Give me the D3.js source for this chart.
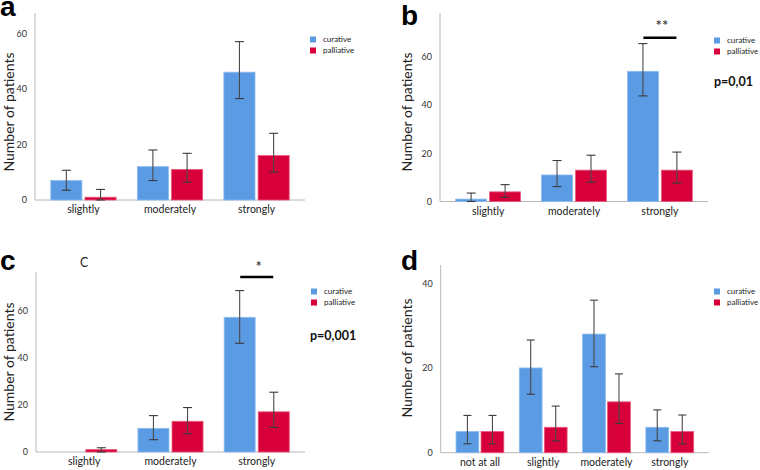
<!DOCTYPE html>
<html><head><meta charset="utf-8">
<script src="https://cdn.jsdelivr.net/npm/d3@7/dist/d3.min.js"></script>
<style>body{margin:0;background:#fff}svg{display:block}</style>
</head><body>
<svg id="chart" width="760" height="470"></svg>
<script>
// ---- data ----
const series = ["curative", "palliative"];
const catsABC = ["slightly", "moderately", "strongly"];
const catsD = ["not at all", "slightly", "moderately", "strongly"];

const aCurative = [7, 12, 46];
const aCurativeErr = [[3.5, 10.7], [7, 18], [36.5, 57]];
const aPalliative = [1, 11, 16];
const aPalliativeErr = [[0, 3.8], [6.4, 16.8], [10, 24]];

const bCurative = [1, 11, 54];
const bCurativeErr = [[0, 3.5], [6.2, 17], [43.8, 65.5]];
const bPalliative = [4, 13, 13];
const bPalliativeErr = [[1.7, 7], [8, 19.2], [7.6, 20.5]];

const cCurative = [0, 10, 57];
const cCurativeErr = [null, [5.2, 15.4], [46, 68.3]];
const cPalliative = [1, 13, 17];
const cPalliativeErr = [[0, 1.8], [7.7, 18.8], [10.4, 25.3]];

const dCurative = [5, 20, 28, 6];
const dCurativeErr = [[2.1, 8.8], [13.8, 26.6], [20.3, 36], [2.8, 10.1]];
const dPalliative = [5, 6, 12, 5];
const dPalliativeErr = [[2.1, 8.8], [2.8, 11], [6.9, 18.6], [2.1, 8.9]];

const ticksABC = [0, 20, 40, 60];
const ticksD = [0, 20, 40];
const yLabel = "Number of patients";

const colors = {curative: "#5b9be4", palliative: "#d7003a"};
const strokes = {curative: "#8dbbef", palliative: "#e9587c"};

const svg = d3.select("#chart");
const FONT = "Lato, 'Open Sans', sans-serif";

function panel(cfg) {
  const g = svg.append("g");
  const x0 = d3.scaleBand().domain(cfg.cats).range([cfg.left, cfg.right])
    .paddingInner(0).paddingOuter(cfg.outer);
  const gw = x0.step() * 0.755;
  const x1 = d3.scaleBand().domain(series).range([-gw / 2, gw / 2]).paddingInner(0.09);
  const y = d3.scaleLinear().domain([0, cfg.ymax]).range([cfg.base, cfg.top]);

  // axis lines
  g.append("line").attr("x1", cfg.left).attr("x2", cfg.left)
    .attr("y1", y(cfg.ymax)).attr("y2", y(0)).attr("stroke", "#b8b8b8").attr("stroke-width", 1);
  g.append("line").attr("x1", cfg.left).attr("x2", cfg.right)
    .attr("y1", y(0)).attr("y2", y(0)).attr("stroke", "#b8b8b8").attr("stroke-width", 1);

  // y axis ticks
  const ya = g.append("g").attr("transform", `translate(${cfg.left},0)`)
    .call(d3.axisLeft(y).tickValues(cfg.ticks).tickSize(0).tickPadding(8));
  ya.select(".domain").remove();
  ya.selectAll("text").attr("font-family", FONT).attr("font-size", 9).attr("fill", "#333");

  // x axis labels
  const xa = g.append("g").attr("transform", `translate(0,${y(0)})`)
    .call(d3.axisBottom(x0).tickSize(0).tickPadding(6));
  xa.select(".domain").remove();
  xa.selectAll("text").attr("font-family", FONT).attr("font-size", 10.5).attr("fill", "#222");

  // bars
  const rows = [];
  cfg.cats.forEach((c, i) => {
    rows.push({cat: c, s: "curative", v: cfg.cur[i], e: cfg.curErr[i]});
    rows.push({cat: c, s: "palliative", v: cfg.pal[i], e: cfg.palErr[i]});
  });
  const bx = d => x0(d.cat) + x0.bandwidth() / 2 + x1(d.s);
  g.selectAll("rect.bar").data(rows.filter(d => d.v > 0)).join("rect")
    .attr("x", bx).attr("width", x1.bandwidth())
    .attr("y", d => y(d.v)).attr("height", d => y(0) - y(d.v))
    .attr("fill", d => colors[d.s]).attr("stroke", d => strokes[d.s]).attr("stroke-width", 0.8);

  // error bars
  const cap = cfg.cap;
  const eb = g.selectAll("g.err").data(rows.filter(d => d.e)).join("g")
    .attr("transform", d => `translate(${bx(d) + x1.bandwidth() / 2},0)`);
  eb.append("line").attr("y1", d => y(d.e[0])).attr("y2", d => y(d.e[1]))
    .attr("stroke", "#4a4a4a").attr("stroke-width", 1.1);
  eb.append("line").attr("x1", -cap / 2).attr("x2", cap / 2)
    .attr("y1", d => y(d.e[0])).attr("y2", d => y(d.e[0])).attr("stroke", "#3a3a3a").attr("stroke-width", 1.1);
  eb.append("line").attr("x1", -cap / 2).attr("x2", cap / 2)
    .attr("y1", d => y(d.e[1])).attr("y2", d => y(d.e[1])).attr("stroke", "#3a3a3a").attr("stroke-width", 1.1);

  // legend
  series.forEach((s, i) => {
    g.append("rect").attr("x", cfg.legX).attr("y", cfg.legY + i * 11)
      .attr("width", 6).attr("height", 6).attr("fill", colors[s]);
    g.append("text").attr("x", cfg.legX + 13).attr("y", cfg.legY + i * 11 + 5.5)
      .attr("font-family", FONT).attr("font-size", 8).attr("fill", "#222").text(s);
  });

  // y label
  g.append("text").attr("transform", `translate(${cfg.ylX},${cfg.ylY}) rotate(-90)`)
    .attr("text-anchor", "middle").attr("font-family", FONT).attr("font-size", 14)
    .attr("fill", "#222").text(yLabel);

  // panel letter
  g.append("text").attr("x", cfg.letX).attr("y", cfg.letY)
    .attr("font-family", "'Liberation Sans', Arial, sans-serif").attr("font-weight", "bold")
    .attr("font-size", 28).attr("fill", "#000").text(cfg.letter);

  if (cfg.sig) {
    const cx = x0(cfg.sig.cat) + x0.bandwidth() / 2;
    g.append("line").attr("x1", cx - cfg.sig.half).attr("x2", cx + cfg.sig.half)
      .attr("y1", cfg.sig.y).attr("y2", cfg.sig.y).attr("stroke", "#000").attr("stroke-width", 2.5);
    g.append("text").attr("x", cx + 2).attr("y", cfg.sig.ty).attr("text-anchor", "middle")
      .attr("font-family", FONT).attr("font-size", 15).attr("fill", "#111").text(cfg.sig.stars);
  }
  if (cfg.p) {
    g.append("text").attr("x", cfg.p.x).attr("y", cfg.p.y)
      .attr("font-family", FONT).attr("font-weight", "bold").attr("font-size", 12.5)
      .attr("fill", "#111").text(cfg.p.text);
  }
  return g;
}

panel({letter: "a", cats: catsABC, cur: aCurative, curErr: aCurativeErr, pal: aPalliative, palErr: aPalliativeErr,
  left: 35, right: 305, outer: 0.06, base: 200, top: 13, ymax: 67.3, ticks: ticksABC, cap: 9,
  legX: 310, legY: 36.5, ylX: 14, ylY: 112, letX: 0, letY: 16});

panel({letter: "b", cats: catsABC, cur: bCurative, curErr: bCurativeErr, pal: bPalliative, palErr: bPalliativeErr,
  left: 440, right: 708, outer: 0.06, base: 201.5, top: 13, ymax: 78.2, ticks: ticksABC, cap: 9,
  legX: 714, legY: 37.5, ylX: 412, ylY: 112, letX: 401, letY: 25,
  sig: {cat: "strongly", half: 16.5, y: 37.7, ty: 31, stars: "**"},
  p: {x: 714, y: 86, text: "p=0,01"}});

const gc = panel({letter: "c", cats: catsABC, cur: cCurative, curErr: cCurativeErr, pal: cPalliative, palErr: cPalliativeErr,
  left: 36, right: 305, outer: 0.06, base: 452, top: 271.7, ymax: 76.3, ticks: ticksABC, cap: 9,
  legX: 311, legY: 288.5, ylX: 14, ylY: 362, letX: 0, letY: 270,
  sig: {cat: "strongly", half: 16.5, y: 277, ty: 272, stars: "*"},
  p: {x: 310, y: 340, text: "p=0,001"}});
gc.append("text").attr("x", 80).attr("y", 267).attr("font-family", FONT).attr("font-size", 12.5)
  .attr("fill", "#222").text("C");

panel({letter: "d", cats: catsD, cur: dCurative, curErr: dCurativeErr, pal: dPalliative, palErr: dPalliativeErr,
  left: 440.7, right: 709, outer: 0.12, base: 452.7, top: 265, ymax: 44.3, ticks: ticksD, cap: 8,
  legX: 714, legY: 288.5, ylX: 412, ylY: 358, letX: 401, letY: 270});
</script>
</body></html>
